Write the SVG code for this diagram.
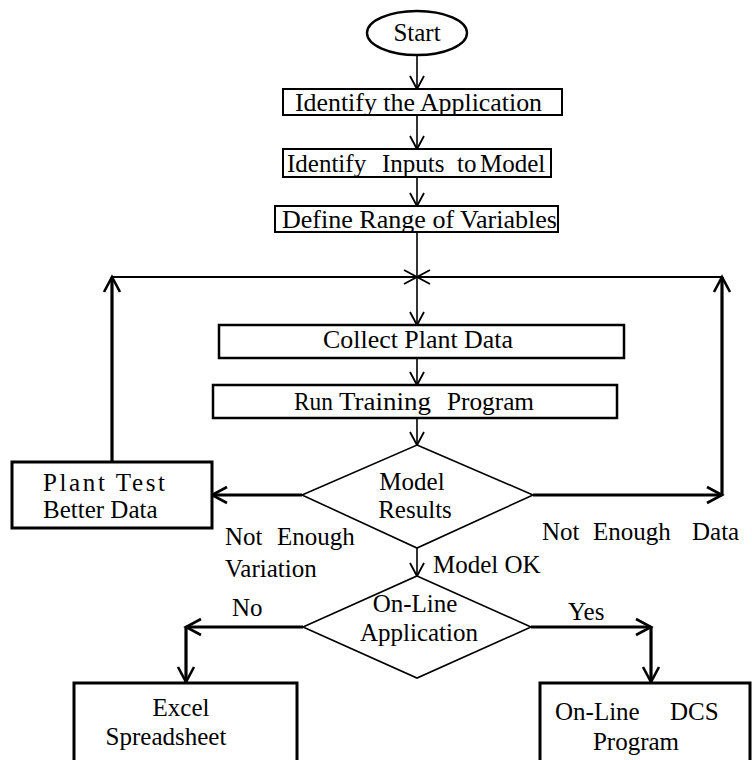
<svg xmlns="http://www.w3.org/2000/svg" width="752" height="760" viewBox="0 0 752 760">
<defs>
<marker id="ah" markerUnits="userSpaceOnUse" markerWidth="20" markerHeight="20" refX="0" refY="0" viewBox="-16 -10 20 20" orient="auto">
<path d="M-13,-7 L0,0 L-13,7" fill="none" stroke="#000" stroke-width="1.8"/>
</marker>
<marker id="ahb" markerUnits="userSpaceOnUse" markerWidth="22" markerHeight="22" refX="0" refY="0" viewBox="-18 -11 22 22" orient="auto">
<path d="M-15,-8 L0,0 L-15,8" fill="none" stroke="#000" stroke-width="2.6"/>
</marker>
</defs>
<style>
text{font-family:"Liberation Serif","Times New Roman",serif;fill:#000;font-size:25px;}
.box{fill:#fff;stroke:#000;stroke-width:2;}
.bx2{fill:#fff;stroke:#000;stroke-width:3;}
.dia{fill:#fff;stroke:#000;stroke-width:1.6;}
.thin{stroke:#000;stroke-width:1.6;fill:none;marker-end:url(#ah);}
.thick{stroke:#000;stroke-width:3.2;fill:none;marker-end:url(#ahb);}
</style>
<rect width="752" height="760" fill="#fff"/>
<g id="connectors">
<line class="thin" x1="417" y1="55" x2="417" y2="89"/>
<line class="thin" x1="417" y1="115" x2="417" y2="149"/>
<line class="thin" x1="417" y1="177" x2="417" y2="206"/>
<line class="thin" x1="417" y1="232" x2="417" y2="325"/>
<line class="thin" x1="112" y1="277" x2="417" y2="277" style="stroke-width:2.2"/>
<line class="thin" x1="722" y1="277" x2="417" y2="277" style="stroke-width:2.2"/>
<line class="thick" x1="112" y1="462" x2="112" y2="277"/>
<line class="thick" x1="533" y1="495" x2="722" y2="495"/>
<line class="thick" x1="722" y1="495" x2="722" y2="277"/>
<line class="thin" x1="417" y1="358" x2="417" y2="385"/>
<line class="thin" x1="417" y1="418" x2="417" y2="445"/>
<line class="thick" x1="302" y1="495" x2="212" y2="495"/>
<line class="thin" x1="417" y1="548" x2="417" y2="576"/>
<line class="thick" x1="303" y1="627" x2="186" y2="627"/>
<line class="thick" x1="186" y1="627" x2="186" y2="682"/>
<line class="thick" x1="531" y1="627" x2="651" y2="627"/>
<line class="thick" x1="651" y1="627" x2="651" y2="682"/>
</g>
<g id="start">
<ellipse cx="417" cy="33" rx="50" ry="22" fill="#fff" stroke="#000" stroke-width="2.4"/>
<text x="417" y="41" text-anchor="middle">Start</text>
</g>
<g id="identify-app">
<rect class="box" x="283" y="89" width="279" height="26"/>
<text x="295" y="111" textLength="247" lengthAdjust="spacingAndGlyphs">Identify the Application</text>
</g>
<g id="identify-inputs">
<rect class="box" x="283" y="149" width="268" height="28"/>
<text y="172"><tspan x="287">Identify</tspan><tspan x="382">Inputs</tspan><tspan x="457">to</tspan><tspan x="480">Model</tspan></text>
</g>
<g id="define-range">
<rect class="box" x="275" y="206" width="283" height="26"/>
<text x="282" y="228" textLength="275" lengthAdjust="spacingAndGlyphs">Define Range of Variables</text>
</g>
<g id="collect">
<rect class="bx2" x="219" y="325" width="405" height="33" style="stroke-width:2.5"/>
<text x="323" y="348" textLength="190" lengthAdjust="spacingAndGlyphs">Collect Plant Data</text>
</g>
<g id="run-training">
<rect class="bx2" x="213" y="385" width="404" height="33" style="stroke-width:2.5"/>
<text x="294" y="410" textLength="39" lengthAdjust="spacingAndGlyphs">Run</text>
<text x="339" y="410" textLength="92" lengthAdjust="spacingAndGlyphs">Training</text>
<text x="447" y="410" textLength="87" lengthAdjust="spacingAndGlyphs">Program</text>
</g>
<g id="model-results">
<polygon class="dia" points="417,445 533,495 417,548 302,495"/>
<text x="412" y="490" text-anchor="middle">Model</text>
<text x="415" y="518" text-anchor="middle">Results</text>
</g>
<g id="plant-test">
<rect class="bx2" x="12" y="462" width="200" height="66"/>
<text x="43" y="491" textLength="122" lengthAdjust="spacing">Plant Test</text>
<text x="43" y="518">Better Data</text>
</g>
<g id="online-app">
<polygon class="dia" points="417,576 531,627 417,678 303,627"/>
<text x="415" y="612" text-anchor="middle">On-Line</text>
<text x="419" y="641" text-anchor="middle">Application</text>
</g>
<g id="excel">
<rect class="bx2" x="74" y="683" width="223" height="90"/>
<text x="181" y="716" text-anchor="middle">Excel</text>
<text x="166" y="745" text-anchor="middle">Spreadsheet</text>
</g>
<g id="dcs">
<rect class="bx2" x="540" y="683" width="210" height="90"/>
<text y="720"><tspan x="555">On-Line</tspan><tspan x="670">DCS</tspan></text>
<text x="636" y="750" text-anchor="middle">Program</text>
</g>
<g id="labels">
<text y="545"><tspan x="225">Not</tspan><tspan x="277">Enough</tspan></text>
<text x="225" y="577">Variation</text>
<text y="540"><tspan x="542">Not</tspan><tspan x="593">Enough</tspan><tspan x="692">Data</tspan></text>
<text x="433" y="573">Model OK</text>
<text x="232" y="616">No</text>
<text x="568" y="620">Yes</text>
</g>
</svg>
